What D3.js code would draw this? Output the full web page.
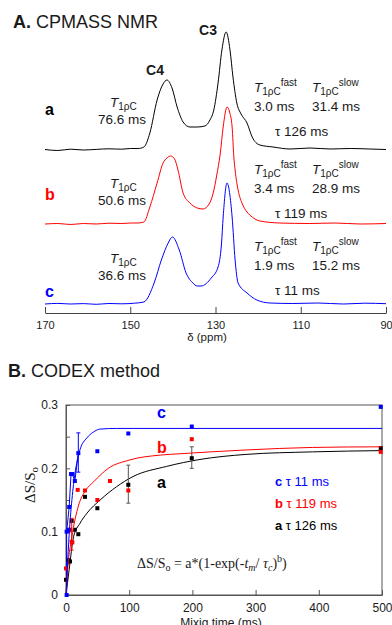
<!DOCTYPE html>
<html>
<head>
<meta charset="utf-8">
<script src="https://cdn.jsdelivr.net/npm/d3@7"></script>
<style>
  html, body { margin: 0; padding: 0; background: #fff; }
  svg { display: block; font-family: "Liberation Sans", Arial, sans-serif; }
</style>
</head>
<body>
<div id="chart"></div>
<script>
// -- panel A: CPMAS spectra, [ppm, intensity]
const spectrumA = [[170,0.5],[167,-0.5],[164,0.8],[161,0],[158,0.6],[155,1.2],[152,0.8],[150,1.5],[148.2,1.5],[146.8,3],
  [145.4,17],[143.7,50],[142.3,66],[141.4,70],[140.2,62],[139.0,43],[137.6,28],[136.0,23],[134.3,23],[132.5,24],
  [131.3,30],[130.4,40],[129.4,67],[128.5,100],[127.5,118],[126.6,100],[125.9,73],[125.0,47],[124.0,36],[122.6,27],
  [121.4,13],[119.6,5],[116.5,3],[112.5,1],[107.8,2],[103.1,1],[98.4,1.5],[93.8,1],[90,0.5]];
const spectrumB = [[170,0],[167,0.5],[164,-0.5],[161,0.5],[158,0],[155,0.8],[152,0.5],[150,1],[148.2,1],[146.8,2],
  [145.4,17],[143.7,41],[142.3,61],[141.4,66],[140.5,68],[139.6,65],[138.8,54],[137.6,31],[136.0,21],[134.3,16],
  [132.9,15],[131.5,20],[130.6,30],[129.7,49],[128.9,70],[128.2,97],[127.3,117],[126.7,112],[126.1,97],[125.7,67],
  [125.4,54],[124.7,34],[123.8,21],[122.6,12],[121.4,7],[119.6,3],[114.9,1],[108,0.5],[102,1],[96,0],[90,0.5]];
const spectrumC = [[170,0],[167,0.6],[164,0],[161,0.4],[158,-0.3],[155,0.5],[152,0.2],[149,0.8],[146.8,2],
  [144.4,21],[142.7,44],[141.1,61],[140.1,67],[138.5,54],[136.9,31],[135.3,21],[134.3,18],[133.4,18],[131.0,26],
  [129.4,37],[128.6,60],[128.2,87],[127.3,121],[126.1,87],[125.4,44],[124.7,21],[122.6,11],[120.3,4],[117.2,1],
  [112,0.5],[106,1],[100,0],[95,0.8],[90,0.3]];
const ppmTicks = [170, 150, 130, 110, 90];

// -- panel B: CODEX, [mixing time (ms), dS/So]
const pointsC = [[1,0],[1,0.1],[4,0.103],[5,0.139],[8,0.191],[10,0.191],[14,0.18],[19.5,0.224],[49.6,0.227],[98.6,0.255],[199,0.266],[498,0.297]];
const pointsB = [[0,0.042],[3.7,0.101],[6.3,0.103],[9,0.084],[10,0.083],[18.5,0.166],[30,0.165],[49.6,0.15],[69.6,0.18],[98.6,0.165],[199,0.246],[498,0.226]];
const pointsA = [[0,0.024],[3.7,0.055],[6.3,0.053],[9,0.117],[14,0.103],[19.5,0.096],[30,0.155],[49.6,0.137],[98.6,0.174],[199,0.216],[498,0.232]];
const traceC = [[1,0],[1,0.1],[5,0.139],[8,0.191],[10,0.191],[14,0.18],[19.5,0.224]];
const errorsC = [[19.5,0.194,0.256]];
const errorsB = [[9,0.071,0.121]];
const errorsA = [[98.6,0.145,0.205],[199,0.2,0.234]];
const fitC = [[0,0],[2,0.04],[5,0.095],[10,0.157],[15,0.197],[22,0.229],[33,0.248],[43,0.257],[54,0.262],[80,0.263],[500,0.263]];
const fitB = [[0,0],[3,0.045],[9,0.09],[20,0.142],[31,0.165],[44,0.179],[67,0.2],[100,0.213],[150,0.221],[180,0.223],[285,0.229],[390,0.233],[500,0.234]];
const fitA = [[0,0],[5,0.04],[12,0.092],[22,0.113],[33,0.129],[54,0.15],[80,0.171],[106,0.187],[159,0.203],[212,0.214],[285,0.222],[390,0.226],[500,0.228]];
const timeTicks = [0, 100, 200, 300, 400, 500];
const ratioTicks = [0, 0.1, 0.2, 0.3];

const W = 392, H = 625;
const ink = '#1a1a1a';
const svg = d3.select('#chart').append('svg').attr('width', W).attr('height', H);

// ---------------- panel A ----------------
svg.append('text').attr('x', 13).attr('y', 28).attr('font-size', 18).attr('fill', ink)
  .call(t => t.append('tspan').attr('font-weight', 'bold').text('A.'))
  .call(t => t.append('tspan').text(' CPMASS NMR'));

const x = d3.scaleLinear().domain([170, 90]).range([45, 386]);
const yInt = d3.scaleLinear().domain([0, 125]).range([0, -125]);
const line = d3.line().x(d => x(d[0])).y(d => yInt(d[1])).curve(d3.curveMonotoneX);

const traces = [
  { data: spectrumA, color: '#000000', base: 150 },
  { data: spectrumB, color: '#ff0000', base: 224 },
  { data: spectrumC, color: '#0000ff', base: 304 }
];
svg.append('g').selectAll('path').data(traces).join('path')
  .attr('transform', d => `translate(0,${d.base})`)
  .attr('fill', 'none').attr('stroke', d => d.color).attr('stroke-width', 1)
  .attr('d', d => line(d.data));

// -- ppm axis, ticks pointing up
const axisA = svg.append('g').attr('transform', 'translate(0,313)')
  .call(d3.axisBottom(x).tickValues(ppmTicks).tickSizeInner(-6).tickSizeOuter(0).tickPadding(8));
axisA.select('.domain').attr('stroke', '#444');
axisA.selectAll('.tick line').attr('stroke', '#444');
axisA.selectAll('.tick text').attr('font-size', 11).attr('font-family', 'Liberation Sans, Arial').attr('fill', ink);
svg.append('text').attr('x', 207).attr('y', 341).attr('text-anchor', 'middle').attr('font-size', 11.5).attr('fill', ink).text('δ (ppm)');

svg.append('text').attr('x', 155).attr('y', 75).attr('text-anchor', 'middle').attr('font-size', 14).attr('font-weight', 'bold').attr('fill', ink).text('C4');
svg.append('text').attr('x', 208).attr('y', 35).attr('text-anchor', 'middle').attr('font-size', 14).attr('font-weight', 'bold').attr('fill', ink).text('C3');

function t1(sel, px, py, sup) {
  const t = sel.append('text').attr('x', px).attr('y', py).attr('font-size', 13.5).attr('fill', ink);
  t.append('tspan').attr('font-style', 'italic').text('T');
  t.append('tspan').attr('font-size', 10).attr('dy', 3).text('1ρC');
  if (sup) t.append('tspan').attr('font-size', 10).attr('dy', -9).text(sup);
  return t;
}
function txt(px, py, s, anchor) {
  return svg.append('text').attr('x', px).attr('y', py).attr('font-size', 13.5).attr('fill', ink)
    .attr('text-anchor', anchor || 'start').text(s);
}

const notes = [
  { label: 'a', color: '#000000', y: 115, t1: '76.6 ms', ty: 107, fast: '3.0 ms', slow: '31.4 ms', fy: 92, tau: '126 ms' },
  { label: 'b', color: '#ff0000', y: 200, t1: '50.6 ms', ty: 188, fast: '3.4 ms', slow: '28.9 ms', fy: 174, tau: '119 ms' },
  { label: 'c', color: '#0000ff', y: 297, t1: '36.6 ms', ty: 263, fast: '1.9 ms', slow: '15.2 ms', fy: 251, tau: '11 ms' }
];
notes.forEach(n => {
  svg.append('text').attr('x', 45).attr('y', n.y).attr('font-size', 16).attr('font-weight', 'bold')
    .attr('fill', n.color).text(n.label);
  t1(svg, 110, n.ty, null);
  txt(122, n.ty + 17, n.t1, 'middle');
  t1(svg, 254, n.fy, 'fast');
  t1(svg, 312, n.fy, 'slow');
  txt(254, n.fy + 19, n.fast);
  txt(312, n.fy + 19, n.slow);
  txt(275, n.fy + 44, 'τ  ' + n.tau);
});

// ---------------- panel B ----------------
svg.append('text').attr('x', 8).attr('y', 377).attr('font-size', 18).attr('fill', ink)
  .call(t => t.append('tspan').attr('font-weight', 'bold').text('B.'))
  .call(t => t.append('tspan').text(' CODEX method'));

const xt = d3.scaleLinear().domain([0, 500]).range([66, 382]);
const yr = d3.scaleLinear().domain([0, 0.3]).range([595, 405]);

svg.append('rect').attr('x', 66).attr('y', 405).attr('width', 316).attr('height', 190)
  .attr('fill', 'none').attr('stroke', '#555').attr('stroke-width', 1);

const axX = svg.append('g').attr('transform', 'translate(0,595)')
  .call(d3.axisBottom(xt).tickValues(timeTicks).tickFormat(d3.format('d')).tickSizeInner(-5).tickSizeOuter(0).tickPadding(8));
const axY = svg.append('g').attr('transform', 'translate(66,0)')
  .call(d3.axisLeft(yr).tickValues(d3.range(0, 0.3001, 0.05)).tickFormat(d => ratioTicks.some(r => Math.abs(r - d) < 1e-6) ? d3.format('~g')(d) : '')
    .tickSizeInner(-4).tickSizeOuter(0).tickPadding(8));
[axX, axY].forEach(a => {
  a.select('.domain').attr('stroke', '#555');
  a.selectAll('.tick line').attr('stroke', '#555');
  a.selectAll('.tick text').attr('font-size', 12).attr('font-family', 'Liberation Sans, Arial').attr('fill', ink);
});
svg.append('text').attr('x', 221).attr('y', 627).attr('text-anchor', 'middle').attr('font-size', 12).attr('fill', ink).text('Mixig time (ms)');
svg.append('text').attr('transform', 'translate(35,485) rotate(-90)').attr('text-anchor', 'middle')
  .attr('font-family', 'Liberation Serif, serif').attr('font-size', 15).attr('fill', ink)
  .call(t => t.append('tspan').text('ΔS/S'))
  .call(t => t.append('tspan').attr('font-size', 11).attr('dy', 3).text('o'));

const fitLine = d3.line().x(d => xt(d[0])).y(d => yr(d[1])).curve(d3.curveMonotoneX);
const series = [
  { points: pointsA, fit: fitA, errs: errorsA, color: '#000000', bar: '#555' },
  { points: pointsB, fit: fitB, errs: errorsB, color: '#ff0000', bar: '#ff0000' },
  { points: pointsC, fit: fitC, errs: errorsC, color: '#0000ff', bar: '#0000ff' }
];
// -- early c points are joined point to point in the figure
svg.append('path').attr('fill', 'none').attr('stroke', '#0000ff').attr('stroke-width', 1)
  .attr('d', d3.line().x(d => xt(d[0])).y(d => yr(d[1]))(traceC));
series.forEach(s => {
  svg.append('path').attr('fill', 'none').attr('stroke', s.color).attr('stroke-width', 1).attr('d', fitLine(s.fit));
  const eb = svg.append('g').attr('stroke', s.bar).attr('stroke-width', 1);
  s.errs.forEach(e => {
    eb.append('line').attr('x1', xt(e[0])).attr('x2', xt(e[0])).attr('y1', yr(e[1])).attr('y2', yr(e[2]));
    eb.append('line').attr('x1', xt(e[0]) - 2).attr('x2', xt(e[0]) + 2).attr('y1', yr(e[1])).attr('y2', yr(e[1]));
    eb.append('line').attr('x1', xt(e[0]) - 2).attr('x2', xt(e[0]) + 2).attr('y1', yr(e[2])).attr('y2', yr(e[2]));
  });
  svg.append('g').selectAll('rect').data(s.points).join('rect')
    .attr('x', d => xt(d[0]) - 2).attr('y', d => yr(d[1]) - 2).attr('width', 4).attr('height', 4)
    .attr('fill', s.color);
});

svg.append('text').attr('x', 157).attr('y', 418).attr('font-size', 16).attr('font-weight', 'bold').attr('fill', '#0000ff').text('c');
svg.append('text').attr('x', 157).attr('y', 453).attr('font-size', 16).attr('font-weight', 'bold').attr('fill', '#ff0000').text('b');
svg.append('text').attr('x', 157).attr('y', 488).attr('font-size', 16).attr('font-weight', 'bold').attr('fill', '#000000').text('a');

const legend = [
  { label: 'c', tau: 'τ 11 ms', color: '#0000ff', y: 486 },
  { label: 'b', tau: 'τ 119 ms', color: '#ff0000', y: 508 },
  { label: 'a', tau: 'τ 126 ms', color: '#000000', y: 530 }
];
legend.forEach(l => {
  svg.append('text').attr('x', 275).attr('y', l.y).attr('font-size', 13).attr('fill', l.color)
    .call(t => t.append('tspan').attr('font-weight', 'bold').text(l.label + ' '))
    .call(t => t.append('tspan').text(l.tau));
});

svg.append('text').attr('x', 137).attr('y', 568).attr('font-family', 'Liberation Serif, serif').attr('font-size', 14).attr('fill', ink)
  .call(t => t.append('tspan').text('ΔS/S'))
  .call(t => t.append('tspan').attr('font-size', 10).attr('dy', 3).text('o'))
  .call(t => t.append('tspan').attr('dy', -3).text(' = a*(1-exp(-'))
  .call(t => t.append('tspan').attr('font-style', 'italic').text('t'))
  .call(t => t.append('tspan').attr('font-size', 10).attr('font-style', 'italic').attr('dy', 3).text('m'))
  .call(t => t.append('tspan').attr('dy', -3).text('/ '))
  .call(t => t.append('tspan').attr('font-style', 'italic').text('τ'))
  .call(t => t.append('tspan').attr('font-size', 10).attr('font-style', 'italic').attr('dy', 3).text('c'))
  .call(t => t.append('tspan').attr('dy', -3).text(')'))
  .call(t => t.append('tspan').attr('font-size', 10).attr('dy', -6).text('b'))
  .call(t => t.append('tspan').attr('dy', 6).text(')'));
</script>
</body>
</html>
